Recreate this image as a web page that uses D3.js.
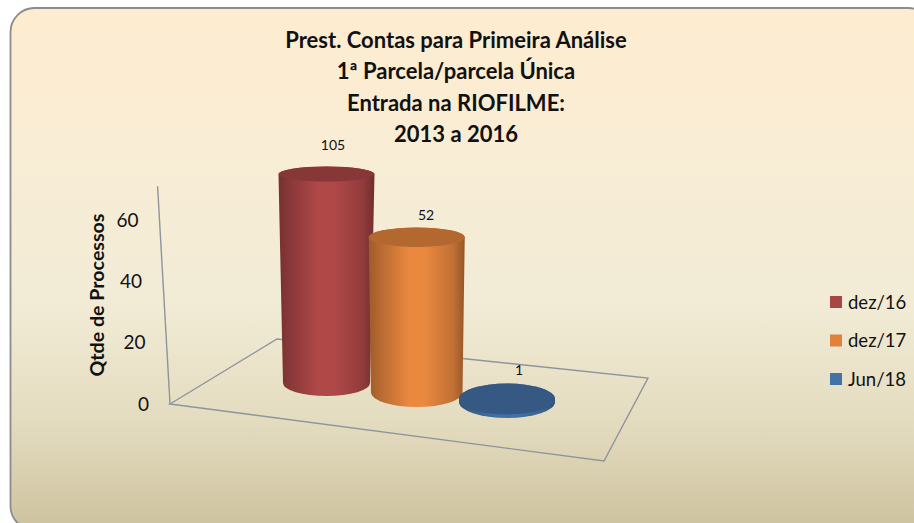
<!DOCTYPE html>
<html><head><meta charset="utf-8">
<script src="https://cdnjs.cloudflare.com/ajax/libs/d3/7.8.5/d3.min.js"></script>
<style>html,body{margin:0;padding:0;background:#fff;overflow:hidden}svg{display:block}text{font-family:Lato,"Open Sans",sans-serif;fill:#111}</style>
</head><body><svg id="c" width="914" height="523"></svg>
<script>
const seriesNames = ["dez/16","dez/17","Jun/18"];
const seriesValues = [105,52,1];
const seriesColors = ["#a94545","#e0823c","#4472a8"];
const yTicks = [0,20,40,60];
const axisMax = 70;
const titleLines = ["Prest. Contas para Primeira Análise","1ª Parcela/parcela Única","Entrada na RIOFILME:","2013 a 2016"];
const yTitle = "Qtde de Processos";

const svg=d3.select("#c");
const defs=svg.append("defs");
const bg=defs.append("linearGradient").attr("id","bg").attr("x1",0).attr("y1",0).attr("x2",0).attr("y2",1);
[[0,"#feecd0"],[.3,"#f8edd5"],[.58,"#f1ebd5"],[.8,"#e3dbbe"],[1,"#cdc29f"]].forEach(s=>bg.append("stop").attr("offset",s[0]).attr("stop-color",s[1]));
svg.append("rect").attr("x",10.5).attr("y",8).attr("width",922).attr("height",522).attr("rx",24).attr("fill","url(#bg)").attr("stroke","#8c8c8c").attr("stroke-width",1.8);

// projected scales
const idx=d3.scaleLinear().domain([0,2]);
const yVal=d3.scaleLinear().domain([0,60]).range([404,220]);
const xAxisAt=d3.scaleLinear().domain([0,60]).range([170,159.5]);
const hScale=d3.scaleLinear().domain([0,axisMax]).range([0,209]).clamp(true);
const cx=idx.copy().range([326.5,507]);
const baseY=idx.copy().range([383,402]);
const baseRy=idx.copy().range([13,16]);
const topRyAt=d3.scaleLinear().domain([175,400]).range([7.5,15.5]);
const baseRx=idx.copy().range([43.5,48]);
const labelDx=idx.copy().range([6.5,12]);
const labelGap=[24,17,24];

// floor + axes
const g=svg.append("g").attr("fill","none").attr("stroke","#8f949c").attr("stroke-width",1.4);
const floor=[[170,404],[277,339],[648,378],[604,461]];
g.append("path").attr("d",d3.line()(floor)+"Z");
g.append("line").attr("x1",xAxisAt(0)).attr("y1",yVal(0)).attr("x2",xAxisAt(axisMax+1)).attr("y2",yVal(axisMax+1));

// tick labels
svg.selectAll(".tick").data(yTicks).join("text").attr("class","tick").attr("text-anchor","end")
 .attr("x",d=>xAxisAt(d)-21).attr("y",d=>yVal(d)+6.5).attr("font-size",19).text(d=>d);
svg.append("text").attr("transform","translate(104,295) rotate(-90)").attr("text-anchor","middle")
 .attr("font-size",18).attr("font-weight",700).attr("textLength",163).attr("lengthAdjust","spacingAndGlyphs").text(yTitle);

// cylinders
const shade=(c,k)=>d3.interpolateRgb(c,"#000")(k);
const tops=seriesValues.map((v,i)=>baseY(i)-hScale(v));
seriesValues.forEach((v,i)=>{
  const x=cx(i),by=baseY(i),ty=tops[i],tr=topRyAt(ty),trx=48,brx=baseRx(i),bry=baseRy(i),c=seriesColors[i],id="cyl"+i;
  const gr=defs.append("linearGradient").attr("id",id);
  const center=i===2?c:d3.color(c).brighter(.12).formatHex();
  [[0,shade(c,.3)],[.1,shade(c,.2)],[.42,center],[.58,center],[.88,shade(c,.14)],[1,shade(c,.33)]].forEach(s=>gr.append("stop").attr("offset",s[0]).attr("stop-color",s[1]));
  svg.append("path").attr("d",`M${x-trx},${ty} L${x-brx},${by} A${brx},${bry} 0 0 0 ${x+brx},${by} L${x+trx},${ty} A${trx},${tr} 0 0 0 ${x-trx},${ty}Z`).attr("fill",`url(#${id})`);
  svg.append("ellipse").attr("cx",x).attr("cy",ty).attr("rx",trx).attr("ry",tr).attr("fill",shade(c,i===2?.22:.2));
});
// data labels
svg.selectAll(".dl").data(seriesValues).join("text").attr("class","dl").attr("text-anchor","middle")
 .attr("x",(d,i)=>cx(i)+labelDx(i)).attr("y",(d,i)=>tops[i]-labelGap[i]).attr("font-size",14).text(d=>d);

// title
svg.append("g").selectAll("text").data(titleLines).join("text").attr("text-anchor","middle")
 .attr("x",456).attr("y",(d,i)=>48+i*31.4).attr("font-size",22).attr("font-weight",700).text(d=>d);

// legend
const ly=d3.scalePoint().domain(seriesNames).range([302,379]);
const lg=svg.selectAll(".lg").data(seriesNames).join("g").attr("class","lg");
lg.append("rect").attr("x",830).attr("y",d=>ly(d)-6).attr("width",12).attr("height",12).attr("fill",(d,i)=>seriesColors[i]);
lg.append("text").attr("x",848).attr("y",d=>ly(d)+6.5).attr("font-size",18.5).text(d=>d);
</script></body></html>
